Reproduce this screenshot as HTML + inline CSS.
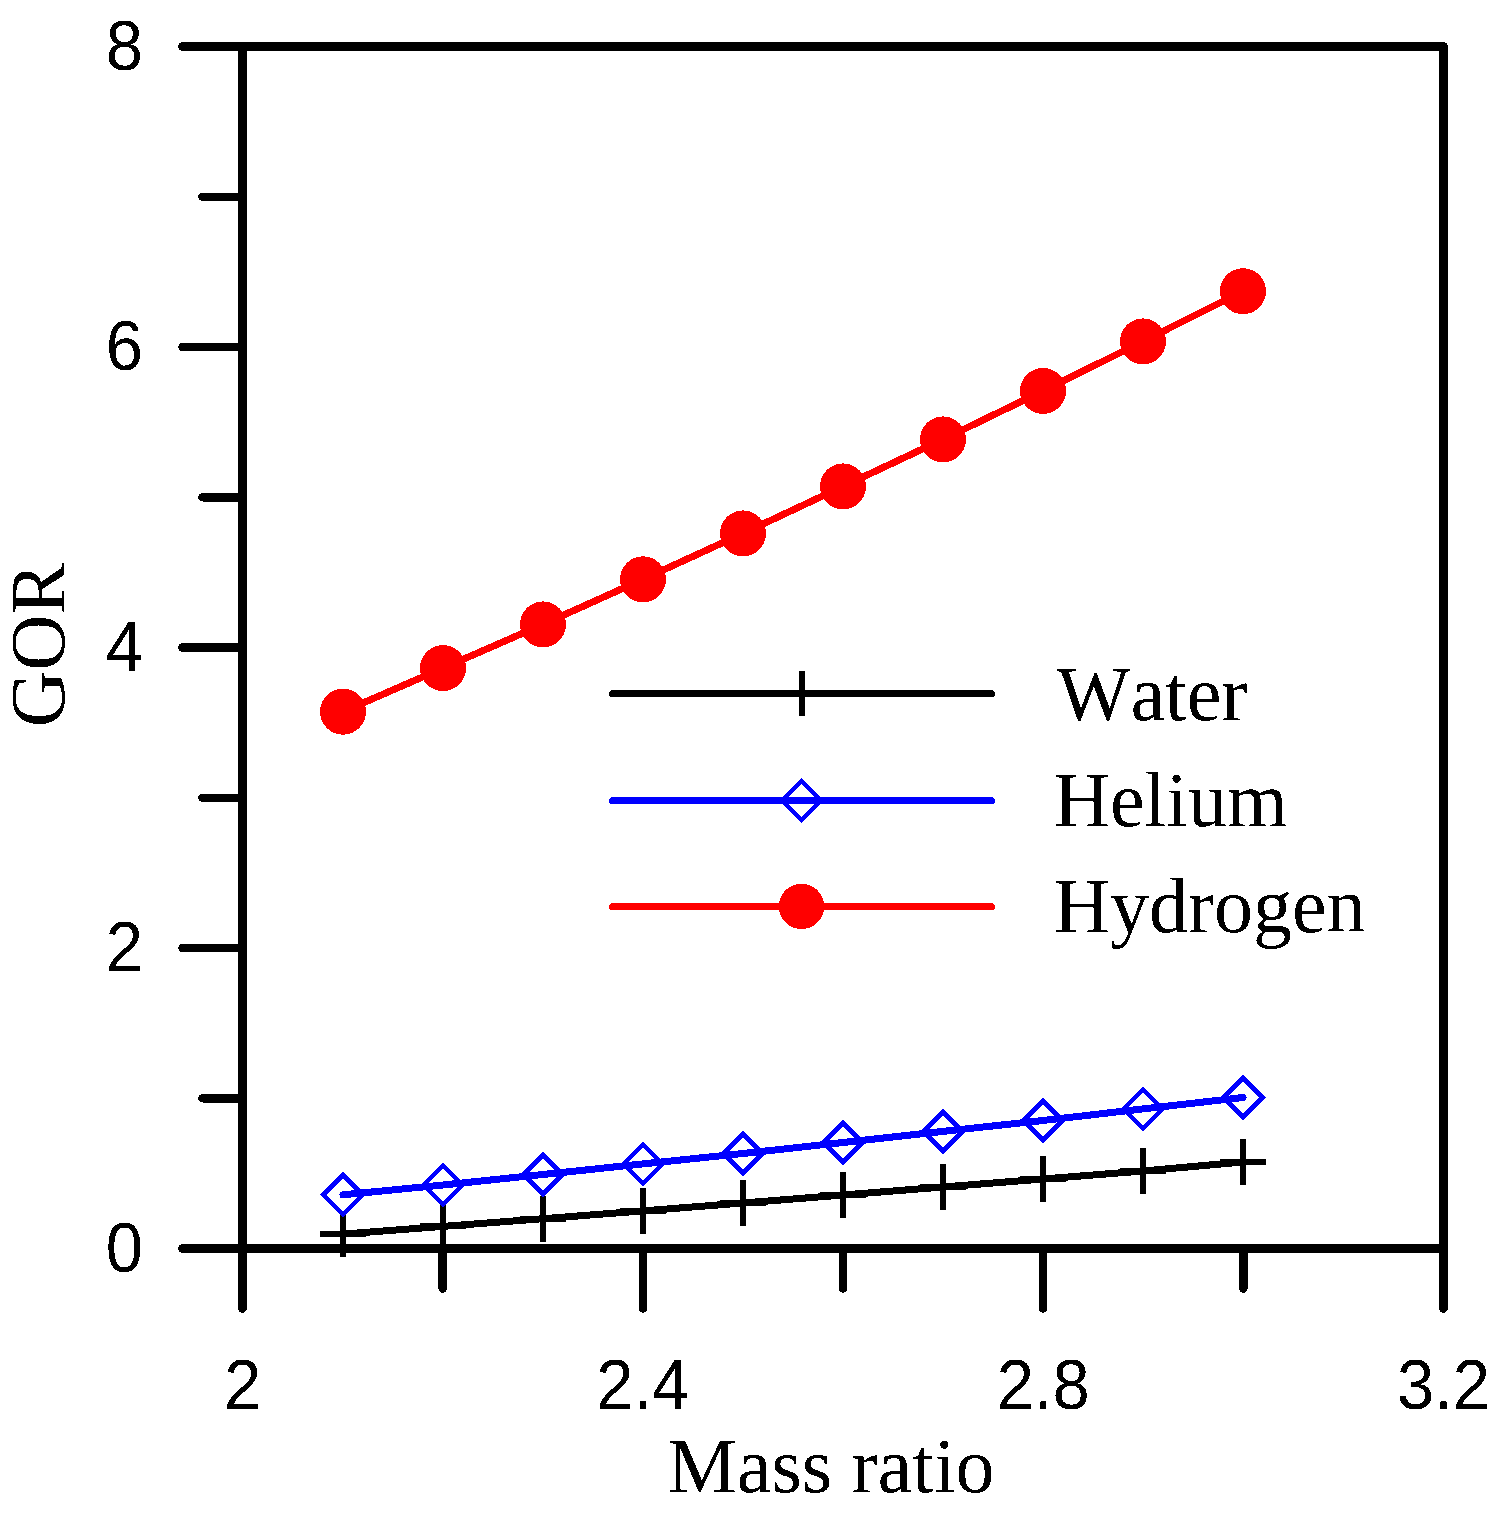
<!DOCTYPE html><html><head><meta charset="utf-8"><title>GOR vs Mass ratio</title><style>html,body{margin:0;padding:0;background:#fff;overflow:hidden;}svg{display:block;}</style></head><body>
<svg width="1506" height="1517" viewBox="0 0 1506 1517">
<defs><filter id="bin" x="-5%" y="-5%" width="110%" height="110%"><feComponentTransfer><feFuncA type="discrete" tableValues="0 1"/></feComponentTransfer></filter></defs>
<rect width="1506" height="1517" fill="#fff"/>
<g stroke="#000" stroke-width="8.5" fill="none" stroke-linecap="round" stroke-linejoin="round" shape-rendering="crispEdges">
<path d="M242.5,1248.5 L242.5,46.5 L1443.5,46.5 L1443.5,1248.5 Z"/>
<line x1="182.5" y1="1248.50" x2="242.5" y2="1248.50"/>
<line x1="182.5" y1="948.00" x2="242.5" y2="948.00"/>
<line x1="182.5" y1="647.50" x2="242.5" y2="647.50"/>
<line x1="182.5" y1="347.00" x2="242.5" y2="347.00"/>
<line x1="182.5" y1="46.50" x2="242.5" y2="46.50"/>
<line x1="202.5" y1="1098.25" x2="242.5" y2="1098.25"/>
<line x1="202.5" y1="797.75" x2="242.5" y2="797.75"/>
<line x1="202.5" y1="497.25" x2="242.5" y2="497.25"/>
<line x1="202.5" y1="196.75" x2="242.5" y2="196.75"/>
<line x1="242.50" y1="1248.5" x2="242.50" y2="1308.5"/>
<line x1="642.83" y1="1248.5" x2="642.83" y2="1308.5"/>
<line x1="1043.17" y1="1248.5" x2="1043.17" y2="1308.5"/>
<line x1="1443.50" y1="1248.5" x2="1443.50" y2="1308.5"/>
<line x1="442.67" y1="1248.5" x2="442.67" y2="1288.5"/>
<line x1="843.00" y1="1248.5" x2="843.00" y2="1288.5"/>
<line x1="1243.33" y1="1248.5" x2="1243.33" y2="1288.5"/>
</g>
<g font-family="'Liberation Sans', Arial, sans-serif" font-size="67" fill="#000" filter="url(#bin)">
<text transform="translate(143,1271.5) scale(1,1.055)" text-anchor="end">0</text>
<text transform="translate(143,971.0) scale(1,1.055)" text-anchor="end">2</text>
<text transform="translate(143,670.5) scale(1,1.055)" text-anchor="end">4</text>
<text transform="translate(143,370.0) scale(1,1.055)" text-anchor="end">6</text>
<text transform="translate(143,69.5) scale(1,1.055)" text-anchor="end">8</text>
<text transform="translate(242.5,1409) scale(1,1.055)" text-anchor="middle">2</text>
<text transform="translate(642.8,1409) scale(1,1.055)" text-anchor="middle">2.4</text>
<text transform="translate(1043.2,1409) scale(1,1.055)" text-anchor="middle">2.8</text>
<text transform="translate(1443.5,1409) scale(1,1.055)" text-anchor="middle">3.2</text>
</g>
<g font-family="'Liberation Serif', 'Times New Roman', serif" font-size="78" fill="#000" filter="url(#bin)">
<text transform="translate(63.8,644.8) rotate(-90)" text-anchor="middle">GOR</text>
<text x="831" y="1491.7" text-anchor="middle">Mass ratio</text>
<text x="1056.8" y="720" style="font-kerning:none">Water</text>
<text x="1053.6" y="825.7">Helium</text>
<text x="1053.6" y="931.8">Hydrogen</text>
</g>
<g fill="none" stroke-width="7" stroke-linecap="round" stroke-linejoin="round" shape-rendering="crispEdges">
<polyline points="343.0,1234.1 443.0,1226.4 543.0,1218.7 643.0,1210.9 743.0,1203.0 843.0,1195.0 943.0,1187.0 1043.0,1179.0 1143.0,1171.0 1243.0,1162.0" stroke="#000"/>
<polyline points="343.0,711.7 443.0,668.1 543.0,624.4 643.0,579.3 743.0,533.4 843.0,486.4 943.0,439.4 1043.0,390.9 1143.0,341.4 1243.0,291.2" stroke="#f00"/>
<polyline points="343.0,1194.8 443.0,1185.0 543.0,1174.5 643.0,1163.9 743.0,1153.5 843.0,1142.5 943.0,1131.4 1043.0,1120.5 1143.0,1108.9 1243.0,1097.5" stroke="#00f"/>
</g>
<g stroke="#000" stroke-width="6" fill="none" shape-rendering="crispEdges">
<path d="M320.0,1234.1H366.0M343.0,1211.1V1257.1"/>
<path d="M420.0,1226.4H466.0M443.0,1203.4V1249.4"/>
<path d="M520.0,1218.7H566.0M543.0,1195.7V1241.7"/>
<path d="M620.0,1210.9H666.0M643.0,1187.9V1233.9"/>
<path d="M720.0,1203H766.0M743.0,1180V1226"/>
<path d="M820.0,1195H866.0M843.0,1172V1218"/>
<path d="M920.0,1187H966.0M943.0,1164V1210"/>
<path d="M1020.0,1179H1066.0M1043.0,1156V1202"/>
<path d="M1120.0,1171H1166.0M1143.0,1148V1194"/>
<path d="M1220.0,1162H1266.0M1243.0,1139V1185"/>
</g>
<g stroke="#00f" stroke-width="4.6" fill="none" shape-rendering="crispEdges">
<path d="M343.0,1175.2L362.6,1194.85L343.0,1214.4L323.4,1194.85Z"/>
<path d="M443.0,1165.4L462.6,1185L443.0,1204.6L423.4,1185Z"/>
<path d="M543.0,1154.9L562.6,1174.45L543.0,1194.0L523.4,1174.45Z"/>
<path d="M643.0,1144.3L662.6,1163.9L643.0,1183.5L623.4,1163.9Z"/>
<path d="M743.0,1133.9L762.6,1153.5L743.0,1173.1L723.4,1153.5Z"/>
<path d="M843.0,1123.0L862.6,1142.55L843.0,1162.1L823.4,1142.55Z"/>
<path d="M943.0,1111.8L962.6,1131.4L943.0,1151.0L923.4,1131.4Z"/>
<path d="M1043.0,1100.9L1062.6,1120.5L1043.0,1140.1L1023.4,1120.5Z"/>
<path d="M1143.0,1089.3L1162.6,1108.9L1143.0,1128.5L1123.4,1108.9Z"/>
<path d="M1243.0,1077.9L1262.6,1097.5L1243.0,1117.1L1223.4,1097.5Z"/>
</g>
<g fill="#f00" shape-rendering="crispEdges">
<circle cx="343.0" cy="711.7" r="23"/>
<circle cx="443.0" cy="668.1" r="23"/>
<circle cx="543.0" cy="624.4" r="23"/>
<circle cx="643.0" cy="579.3" r="23"/>
<circle cx="743.0" cy="533.4" r="23"/>
<circle cx="843.0" cy="486.4" r="23"/>
<circle cx="943.0" cy="439.4" r="23"/>
<circle cx="1043.0" cy="390.9" r="23"/>
<circle cx="1143.0" cy="341.4" r="23"/>
<circle cx="1243.0" cy="291.2" r="23"/>
</g>
<g stroke-width="7" stroke-linecap="round" shape-rendering="crispEdges">
<line x1="612.5" y1="693.5" x2="991.5" y2="693.5" stroke="#000"/>
<line x1="612.5" y1="800.5" x2="991.5" y2="800.5" stroke="#00f"/>
<line x1="612.5" y1="906.5" x2="991.5" y2="906.5" stroke="#f00"/>
</g>
<path d="M779,693.5H825M802,671V716" stroke="#000" stroke-width="6" fill="none" shape-rendering="crispEdges"/>
<path d="M801.5,780.9L821.1,800.5L801.5,820.1L781.9,800.5Z" stroke="#00f" stroke-width="4.6" fill="none" shape-rendering="crispEdges"/>
<circle cx="801.5" cy="906.4" r="22.7" fill="#f00" shape-rendering="crispEdges"/>
</svg></body></html>
